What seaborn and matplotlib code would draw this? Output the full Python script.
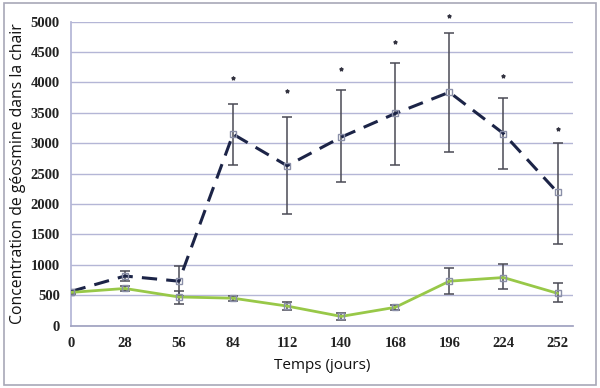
import matplotlib

matplotlib.use("Agg")

import matplotlib.pyplot as plt
import numpy as np
import pandas as pd
import seaborn as sns
from matplotlib.patches import Rectangle

days = [0, 28, 56, 84, 112, 140, 168, 196, 224, 252]

dashed_mean = [560, 815, 730, 3150, 2630, 3100, 3490, 3840, 3160, 2190]
dashed_low = [530, 735, 480, 2650, 1840, 2360, 2650, 2850, 2580, 1350]
dashed_high = [590, 900, 975, 3650, 3430, 3870, 4320, 4820, 3750, 3010]

green_mean = [545, 610, 470, 450, 320, 150, 300, 730, 790, 530]
green_low = [515, 570, 350, 410, 260, 90, 255, 515, 600, 385]
green_high = [575, 650, 570, 490, 380, 210, 345, 940, 1010, 695]

star_days = [84, 112, 140, 168, 196, 224, 252]
star_values = [4080, 3860, 4230, 4670, 5100, 4110, 3230]

sns.set_theme(style="white")

fig = plt.figure(figsize=(6, 3.88), dpi=100)
fig.patch.set_facecolor("white")
fig.patches.append(Rectangle((0.006, 0.008), 0.988, 0.984, transform=fig.transFigure,
                             fill=False, edgecolor="#a8a8b8", linewidth=1.2))
ax = fig.add_axes([0.118, 0.161, 0.837, 0.783])

df = pd.DataFrame({
    "jours": days * 2,
    "valeur": dashed_mean + green_mean,
    "serie": ["pointille"] * len(days) + ["vert"] * len(days),
})

for mean, low, high in [(dashed_mean, dashed_low, dashed_high), (green_mean, green_low, green_high)]:
    mean = np.array(mean)
    yerr = [mean - np.array(low), np.array(high) - mean]
    ax.errorbar(days, mean, yerr=yerr, fmt="none", ecolor="#4a4a55", elinewidth=1.1,
                capsize=3.5, capthick=1.1, zorder=3)

sns.lineplot(data=df[df.serie == "pointille"], x="jours", y="valeur", ax=ax, color="#1c2447",
             linewidth=2.2, linestyle=(0, (5, 3)), marker="s", markersize=5,
             markerfacecolor="none", markeredgecolor="#8a8fa8", markeredgewidth=1, zorder=4)
sns.lineplot(data=df[df.serie == "vert"], x="jours", y="valeur", ax=ax, color="#98c848",
             linewidth=2, marker="s", markersize=5, markerfacecolor="none",
             markeredgecolor="#8a8fa8", markeredgewidth=1, zorder=4)

ax.scatter(star_days, star_values, marker="*", s=6, color="#333340", zorder=5, clip_on=False)

ax.set_xlim(0, 260)
ax.set_ylim(0, 5000)
ax.set_xticks(days)
ax.set_yticks(range(0, 5001, 500))
ax.yaxis.grid(True, color="#b4b6d6", linewidth=1)
ax.xaxis.grid(False)
for side in ["top", "right"]:
    ax.spines[side].set_visible(False)
ax.spines["left"].set_color("#b4b6d6")
ax.spines["bottom"].set_color("#a0a2c0")
ax.tick_params(axis="both", length=0, pad=8)
for label in ax.get_xticklabels() + ax.get_yticklabels():
    label.set_fontfamily("Liberation Serif")
    label.set_fontweight("bold")
    label.set_fontsize(10.5)
    label.set_color("#222222")

ax.set_xlabel("Temps (jours)", fontfamily="Open Sans", fontsize=11, color="#111111", labelpad=6)
ax.set_ylabel("Concentration de géosmine dans la chair", fontfamily="Open Sans",
              fontsize=11.3, color="#111111", labelpad=3)

fig.savefig("out.png", dpi=100)
